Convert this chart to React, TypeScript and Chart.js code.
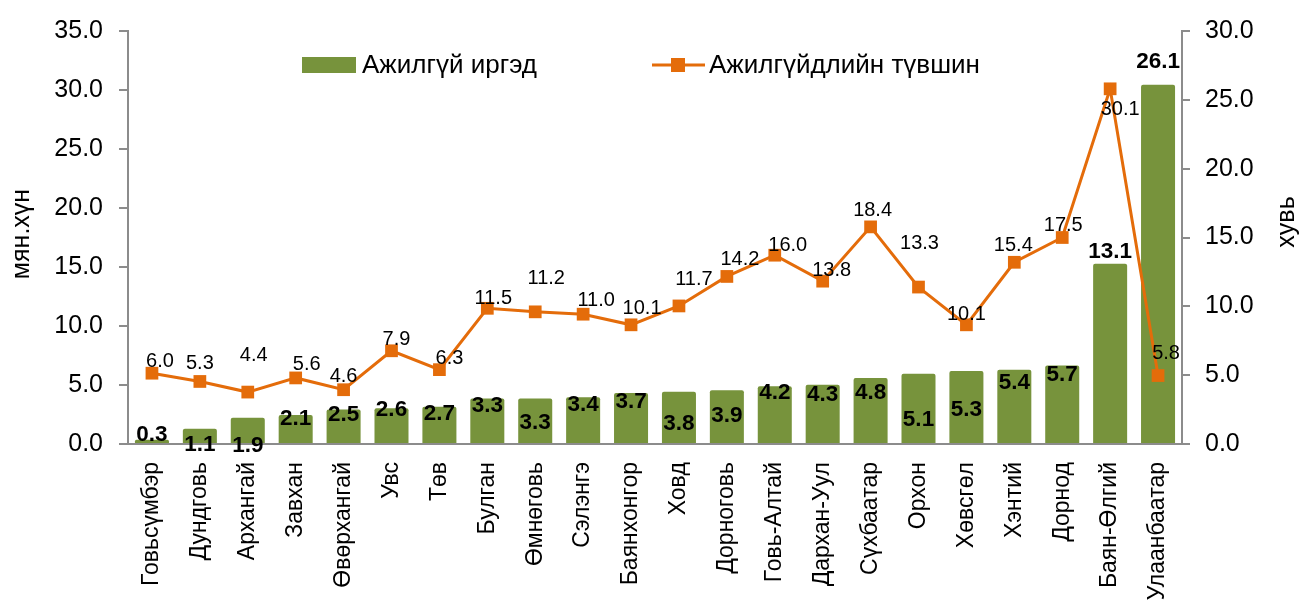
import React, { useEffect, useRef } from "react";
import { Chart, registerables } from "chart.js";

Chart.register(...registerables);

// ---- data ----
const categories = [
  "Говьсүмбэр", "Дундговь", "Архангай", "Завхан", "Өвөрхангай", "Увс", "Төв",
  "Булган", "Өмнөговь", "Сэлэнгэ", "Баянхонгор", "Ховд", "Дорноговь", "Говь-Алтай",
  "Дархан-Уул", "Сүхбаатар", "Орхон", "Хөвсгөл", "Хэнтий", "Дорнод", "Баян-Өлгий", "Улаанбаатар",
];
const unemployedPeople = [0.3, 1.1, 1.9, 2.1, 2.5, 2.6, 2.7, 3.3, 3.3, 3.4, 3.7, 3.8, 3.9, 4.2, 4.3, 4.8, 5.1, 5.3, 5.4, 5.7, 13.1, 26.1];
const unemploymentRate = [6.0, 5.3, 4.4, 5.6, 4.6, 7.9, 6.3, 11.5, 11.2, 11.0, 10.1, 11.7, 14.2, 16.0, 13.8, 18.4, 13.3, 10.1, 15.4, 17.5, 30.1, 5.8];
const barSeriesName = "Ажилгүй иргэд";
const lineSeriesName = "Ажилгүйдлийн түвшин";
const leftAxisTitle = "мян.хүн";
const rightAxisTitle = "хувь";

// ---- style / label placement ----
const FONT = "'Liberation Sans', Arial, sans-serif";
const BAR_COLOR = "#77933C";
const LINE_COLOR = "#E46C0A";
const AXIS_COLOR = "#8C8C8C";
// vertical offset (px) of each bar label centre from the bar top
const barLabelDy = [-5, 16, 28, 4, 5, 2, 7, 7, 24, 8, 9, 32, 25, 7, 10, 15, 46, 39, 13, 9, -12, -23];
// offset (px) of each line label centre from its point
const lineLabelDxDy: [number, number][] = [
  [8, -12], [0, -18], [6, -37], [11, -13], [0, -13], [5, -11], [10, -11], [6, -10], [11, -33],
  [13, -14], [11, -16], [15, -26], [13, -17], [13, -10], [9, -11], [2, -16], [1, -44], [0, -10],
  [-1, -17], [1, -12], [10, 21], [8, -22],
];

const labelsPlugin = {
  id: "customLabels",
  afterDatasetsDraw(chart: any) {
    const ctx = chart.ctx;
    ctx.save();
    ctx.textAlign = "center";
    ctx.textBaseline = "middle";
    ctx.fillStyle = "#000";
    const barMeta = chart.getDatasetMeta(1);
    ctx.font = `bold 22.5px ${FONT}`;
    barMeta.data.forEach((el: any, i: number) => {
      ctx.fillText(unemployedPeople[i].toFixed(1), el.x, el.y + barLabelDy[i]);
    });
    const lineMeta = chart.getDatasetMeta(0);
    ctx.font = `20px ${FONT}`;
    lineMeta.data.forEach((el: any, i: number) => {
      const [dx, dy] = lineLabelDxDy[i];
      ctx.fillText(unemploymentRate[i].toFixed(1), el.x + dx, el.y + dy);
    });
    ctx.restore();
  },
  afterDraw(chart: any) {
    const ctx = chart.ctx;
    ctx.save();
    // legend
    ctx.fillStyle = BAR_COLOR;
    ctx.fillRect(302, 57, 54, 16);
    ctx.fillStyle = "#000";
    ctx.font = `26px ${FONT}`;
    ctx.textAlign = "left";
    ctx.textBaseline = "middle";
    ctx.fillText(barSeriesName, 362, 66);
    ctx.strokeStyle = LINE_COLOR;
    ctx.lineWidth = 3;
    ctx.beginPath();
    ctx.moveTo(652, 65);
    ctx.lineTo(705, 65);
    ctx.stroke();
    ctx.fillStyle = LINE_COLOR;
    ctx.fillRect(671, 58, 14, 14);
    ctx.fillStyle = "#000";
    ctx.fillText(lineSeriesName, 709, 66);
    // axis titles
    ctx.font = `25px ${FONT}`;
    ctx.textAlign = "center";
    ctx.save();
    ctx.translate(22, 234);
    ctx.rotate(-Math.PI / 2);
    ctx.fillText(leftAxisTitle, 0, 0);
    ctx.restore();
    ctx.save();
    ctx.translate(1287, 222);
    ctx.rotate(-Math.PI / 2);
    ctx.fillText(rightAxisTitle, 0, 0);
    ctx.restore();
    ctx.restore();
  },
};

export default function App() {
  const canvasRef = useRef<HTMLCanvasElement | null>(null);

  useEffect(() => {
    if (!canvasRef.current) return;
    const chart = new Chart(canvasRef.current, {
      type: "bar",
      data: {
        labels: categories,
        datasets: [
          {
            type: "line",
            label: lineSeriesName,
            data: unemploymentRate,
            yAxisID: "y",
            borderColor: LINE_COLOR,
            backgroundColor: LINE_COLOR,
            borderWidth: 3,
            pointStyle: "rect",
            pointRadius: 9,
            pointBorderWidth: 0,
            pointBackgroundColor: LINE_COLOR,
            tension: 0,
            order: 0,
          } as any,
          {
            type: "bar",
            label: barSeriesName,
            data: unemployedPeople,
            yAxisID: "y1",
            backgroundColor: BAR_COLOR,
            borderRadius: 2,
            barPercentage: 0.71,
            categoryPercentage: 1,
            order: 1,
          } as any,
        ],
      },
      options: {
        responsive: false,
        animation: false,
        devicePixelRatio: 1,
        layout: { padding: { top: 25, left: 0, right: 0, bottom: 0 } },
        plugins: { legend: { display: false }, tooltip: { enabled: false } },
        scales: {
          x: {
            grid: { display: false },
            border: { display: true, color: AXIS_COLOR, width: 2 },
            ticks: {
              autoSkip: false,
              minRotation: 90,
              maxRotation: 90,
              padding: 10,
              color: "#000",
              font: { family: FONT, size: 23 },
            },
            afterFit(scale: any) {
              scale.height = 161;
            },
          },
          y: {
            position: "left",
            min: 0,
            max: 35,
            grid: { display: true, drawOnChartArea: false, tickLength: 9, color: AXIS_COLOR, lineWidth: 2 },
            border: { display: true, color: AXIS_COLOR, width: 2 },
            ticks: {
              stepSize: 5,
              padding: 16,
              color: "#000",
              font: { family: FONT, size: 25 },
              callback: (v: any) => Number(v).toFixed(1),
            },
            afterFit(scale: any) {
              scale.width = 128;
            },
          },
          y1: {
            position: "right",
            min: 0,
            max: 30,
            grid: { display: true, drawOnChartArea: false, tickLength: 8, color: AXIS_COLOR, lineWidth: 2 },
            border: { display: true, color: AXIS_COLOR, width: 2 },
            ticks: {
              stepSize: 5,
              padding: 15,
              color: "#000",
              font: { family: FONT, size: 25 },
              callback: (v: any) => Number(v).toFixed(1),
            },
            afterFit(scale: any) {
              scale.width = 117;
            },
          },
        },
      },
      plugins: [labelsPlugin],
    });
    return () => chart.destroy();
  }, []);

  return (
    <div style={{ position: "absolute", left: 0, top: 0, width: 1299, height: 605, background: "#fff" }}>
      <canvas ref={canvasRef} width={1299} height={605} style={{ display: "block" }} />
    </div>
  );
}
